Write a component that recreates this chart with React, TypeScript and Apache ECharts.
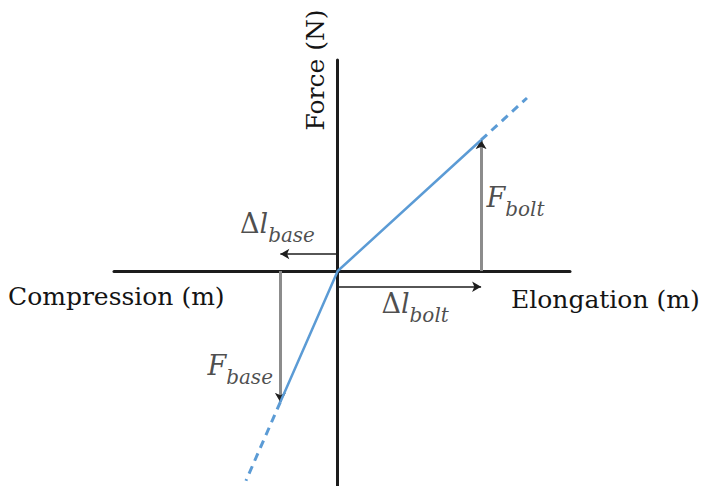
import React, { useEffect, useRef } from "react";
import * as echarts from "echarts";

// Force–deformation diagram of a bolted joint (bolt in tension, base in compression).
// Points are [deformation, force]; compression is negative on both axes.
const origin = [0, 0];
const boltPoint = [1.0, 1.0]; // [Δl_bolt, F_bolt]
const basePoint = [-0.4, -1.0]; // [-Δl_base, -F_base]
const boltExtension = [1.32, 1.32];
const baseExtension = [-0.64, -1.6];

// Where the deformation arrows sit, on the force scale
const boltDeltaArrowY = -0.12;
const baseDeltaArrowY = 0.13;

const axisTitles = ["Compression (m)", "Elongation (m)", "Force (N)"];

const BLUE = "#5b9bd5";
const AXIS = "#1c1c1c";
const GREY = "#8c8c8c";
const INK = "#1e1e1e";
const MATH_FONT = "DejaVu Serif";
const TEXT_FONT = "DejaVu Serif";

function mathLabel(main: string, sub: string) {
  return `{m|${main}}{s|${sub}}`;
}

const mathRich = {
  m: {
    fontFamily: MATH_FONT,
    fontStyle: "italic",
    fontSize: 27,
    color: INK,
    verticalAlign: "bottom",
    padding: [0, 0, 8, 0],
  },
  u: {
    fontFamily: MATH_FONT,
    fontSize: 27,
    color: INK,
    verticalAlign: "bottom",
    padding: [0, 0, 8, 0],
  },
  s: {
    fontFamily: MATH_FONT,
    fontStyle: "italic",
    fontSize: 20,
    color: INK,
    verticalAlign: "bottom",
  },
};

export default function App() {
  const ref = useRef<HTMLDivElement>(null);

  useEffect(() => {
    if (!ref.current) return;
    const chart = echarts.init(ref.current, undefined, { renderer: "svg" });

    const labelPoint = (value: number[], text: string) => ({
      value,
      label: {
        show: true,
        position: "inside",
        color: INK,
        textBorderWidth: 0,
        formatter: text,
        rich: mathRich,
      },
    });

    // Short dark stub at a force arrow's tip so its head is drawn in ink
    const tipStub = (tip: number[]) => [
      { coord: [tip[0], tip[1] * 0.97], lineStyle: { color: INK, width: 1, type: "solid" } },
      { coord: tip },
    ];

    const titleFont = `25px "${TEXT_FONT}"`;

    chart.setOption({
      animation: false,
      backgroundColor: "#ffffff",
      grid: { left: 114, right: 132, top: 60, bottom: 0, containLabel: false },
      xAxis: {
        type: "value",
        min: -1.56,
        max: 1.62,
        axisLine: { show: true, onZero: true, lineStyle: { color: AXIS, width: 3 } },
        axisTick: { show: false },
        axisLabel: { show: false },
        splitLine: { show: false },
      },
      yAxis: {
        type: "value",
        min: -1.64,
        max: 1.61,
        axisLine: { show: true, onZero: true, lineStyle: { color: AXIS, width: 3 } },
        axisTick: { show: false },
        axisLabel: { show: false },
        splitLine: { show: false },
      },
      graphic: [
        {
          type: "text",
          left: 8,
          top: 284,
          style: { text: axisTitles[0], font: titleFont, fill: "#141414" },
        },
        {
          type: "text",
          left: 511,
          top: 287,
          style: { text: axisTitles[1], font: titleFont, fill: "#141414" },
        },
        {
          type: "text",
          x: 315,
          y: 70,
          rotation: Math.PI / 2,
          style: {
            text: axisTitles[2],
            font: titleFont,
            fill: "#141414",
            align: "center",
            verticalAlign: "middle",
          },
        },
      ],
      series: [
        {
          type: "line",
          data: [basePoint, origin, boltPoint],
          symbol: "none",
          lineStyle: { color: BLUE, width: 2.5 },
          z: 5,
          markLine: {
            silent: true,
            symbol: ["none", "arrow"],
            symbolSize: [8, 9],
            label: { show: false },
            data: [
              [
                { coord: [boltPoint[0], origin[1]], lineStyle: { color: GREY, width: 3, type: "solid" } },
                { coord: boltPoint },
              ],
              [
                { coord: [basePoint[0], origin[1]], lineStyle: { color: GREY, width: 3, type: "solid" } },
                { coord: basePoint },
              ],
              tipStub(boltPoint),
              tipStub(basePoint),
              [
                { coord: [origin[0], boltDeltaArrowY], lineStyle: { color: INK, width: 1.5, type: "solid" } },
                { coord: [boltPoint[0], boltDeltaArrowY] },
              ],
              [
                { coord: [origin[0], baseDeltaArrowY], lineStyle: { color: INK, width: 1.5, type: "solid" } },
                { coord: [basePoint[0], baseDeltaArrowY] },
              ],
            ],
          },
        },
        {
          type: "line",
          data: [boltPoint, boltExtension],
          symbol: "none",
          lineStyle: { color: BLUE, width: 3, type: [8, 6] },
          z: 5,
        },
        {
          type: "line",
          data: [basePoint, baseExtension],
          symbol: "none",
          lineStyle: { color: BLUE, width: 3, type: [8, 6] },
          z: 5,
        },
        {
          type: "scatter",
          symbolSize: 1,
          itemStyle: { color: "transparent" },
          silent: true,
          data: [
            labelPoint([basePoint[0] - 0.02, 0.33], `{u|Δ}${mathLabel("l", "base")}`),
            labelPoint([boltPoint[0] / 2 + 0.04, -0.275], `{u|Δ}${mathLabel("l", "bolt")}`),
            labelPoint([boltPoint[0] + 0.24, boltPoint[1] / 2 + 0.03], mathLabel("F", "bolt")),
            labelPoint([basePoint[0] - 0.28, basePoint[1] * 0.755], mathLabel("F", "base")),
          ],
        },
      ],
    });

    return () => chart.dispose();
  }, []);

  return (
    <div
      ref={ref}
      style={{ position: "fixed", left: 0, top: 0, width: 702, height: 486 }}
    />
  );
}
